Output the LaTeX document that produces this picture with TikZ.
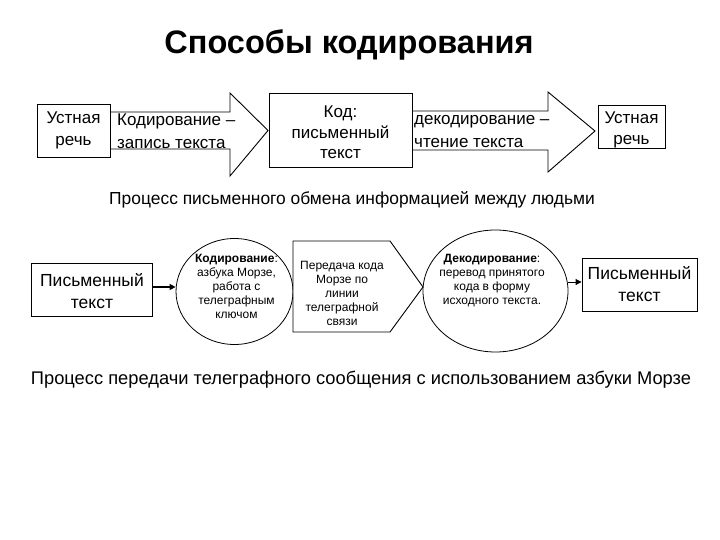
\documentclass[tikz,border=0pt]{standalone}
\usepackage{fontspec}
\setmainfont{Liberation Sans}
\usetikzlibrary{arrows.meta,shapes.geometric}
\begin{document}
\begin{tikzpicture}[x=1pt,y=-1pt,
  box/.style={draw,line width=0.9pt,fill=white,inner sep=0pt},
  bigarrow/.style={draw,line width=0.9pt,fill=white,line join=miter},
  oval/.style={draw,line width=0.8pt,fill=white,ellipse,inner sep=0pt},
  toptxt/.style={font=\fontsize{17}{21.5}\selectfont,align=center,inner sep=0pt},
  arrtxt/.style={font=\fontsize{17}{23}\selectfont,align=left,inner sep=0pt,anchor=west},
  bottxt/.style={font=\fontsize{17.5}{22}\selectfont,align=center,inner sep=0pt},
  small/.style={font=\fontsize{12}{14.2}\selectfont,align=center,inner sep=0pt},
  caption/.style={inner sep=0pt},
  conn/.style={-{Triangle[length=6pt,width=6pt]}}
]
\useasboundingbox (0,0) rectangle (720,540);

% title
\node[font=\bfseries\fontsize{32.5}{38}\selectfont,inner sep=0pt] (title) at (349,45) {Способы кодирования};

% top row big arrows
\path[bigarrow] (110,112) -- (230,112) -- (230,93) -- (268,130.5) -- (230,176) -- (230,149) -- (110,149);
\path[bigarrow] (412,111) -- (548,111) -- (548,92) -- (595,131) -- (548,172) -- (548,150) -- (412,150);

% top row boxes
\node[box,minimum width=73pt,minimum height=53pt] (b1) at (73.5,130.5) {};
\node[toptxt] (b1t) at (73.5,130.5) {Устная\\речь};
\node[box,minimum width=143pt,minimum height=74pt] (b2) at (340.5,130) {};
\node[font=\fontsize{17}{20.5}\selectfont,align=center,inner sep=0pt] (b2t) at (340.5,132.5) {Код:\\письменный\\текст};
\node[box,minimum width=67pt,minimum height=43pt] (b3) at (631.5,126.5) {};
\node[toptxt] (b3t) at (631.5,130) {Устная\\речь};

\node[arrtxt] (a1t) at (117,131.5) {Кодирование –\\запись текста};
\node[arrtxt] (a2t) at (414,131.5) {декодирование –\\чтение текста};

% subtitle
\node[caption,font=\fontsize{17.4}{20}\selectfont] (sub) at (352,200) {Процесс письменного обмена информацией между людьми};

% bottom row
\node[box,minimum width=121pt,minimum height=53pt] (p1) at (92,289.5) {};
\node[bottxt] (p1t) at (92,291) {Письменный\\текст};

\node[oval,minimum width=117pt,minimum height=106pt] (c1) at (234.5,291.5) {};
\node[small] (c1t) at (236.5,286.5) {\textbf{Кодирование}:\\азбука Морзе,\\работа с\\телеграфным\\ключом};

\path[bigarrow] (293,241) -- (390,241) -- (423,287) -- (390,332) -- (293,332) -- cycle;
\node[small] (pt) at (342,293.5) {Передача кода\\Морзе по\\линии\\телеграфной\\связи};

\node[oval,minimum width=145pt,minimum height=122pt] (c2) at (495.5,291) {};
\node[small] (c2t) at (492,280.5) {\textbf{Декодирование}:\\перевод принятого\\кода в форму\\исходного текста.};

\node[box,minimum width=115pt,minimum height=53pt] (p2) at (639.5,284.5) {};
\node[bottxt] (p2t) at (639.5,284.5) {Письменный\\текст};

\draw[conn,line width=1.8pt] (p1.east |- 0,287) -- (c1.west |- 0,287);
\draw[conn,line width=0.9pt] (c2.east |- 0,282) -- (p2.west |- 0,282);

% caption
\node[caption,font=\fontsize{18.3}{21}\selectfont] (cap) at (361,380) {Процесс передачи телеграфного сообщения с использованием азбуки Морзе};
\end{tikzpicture}
\end{document}
